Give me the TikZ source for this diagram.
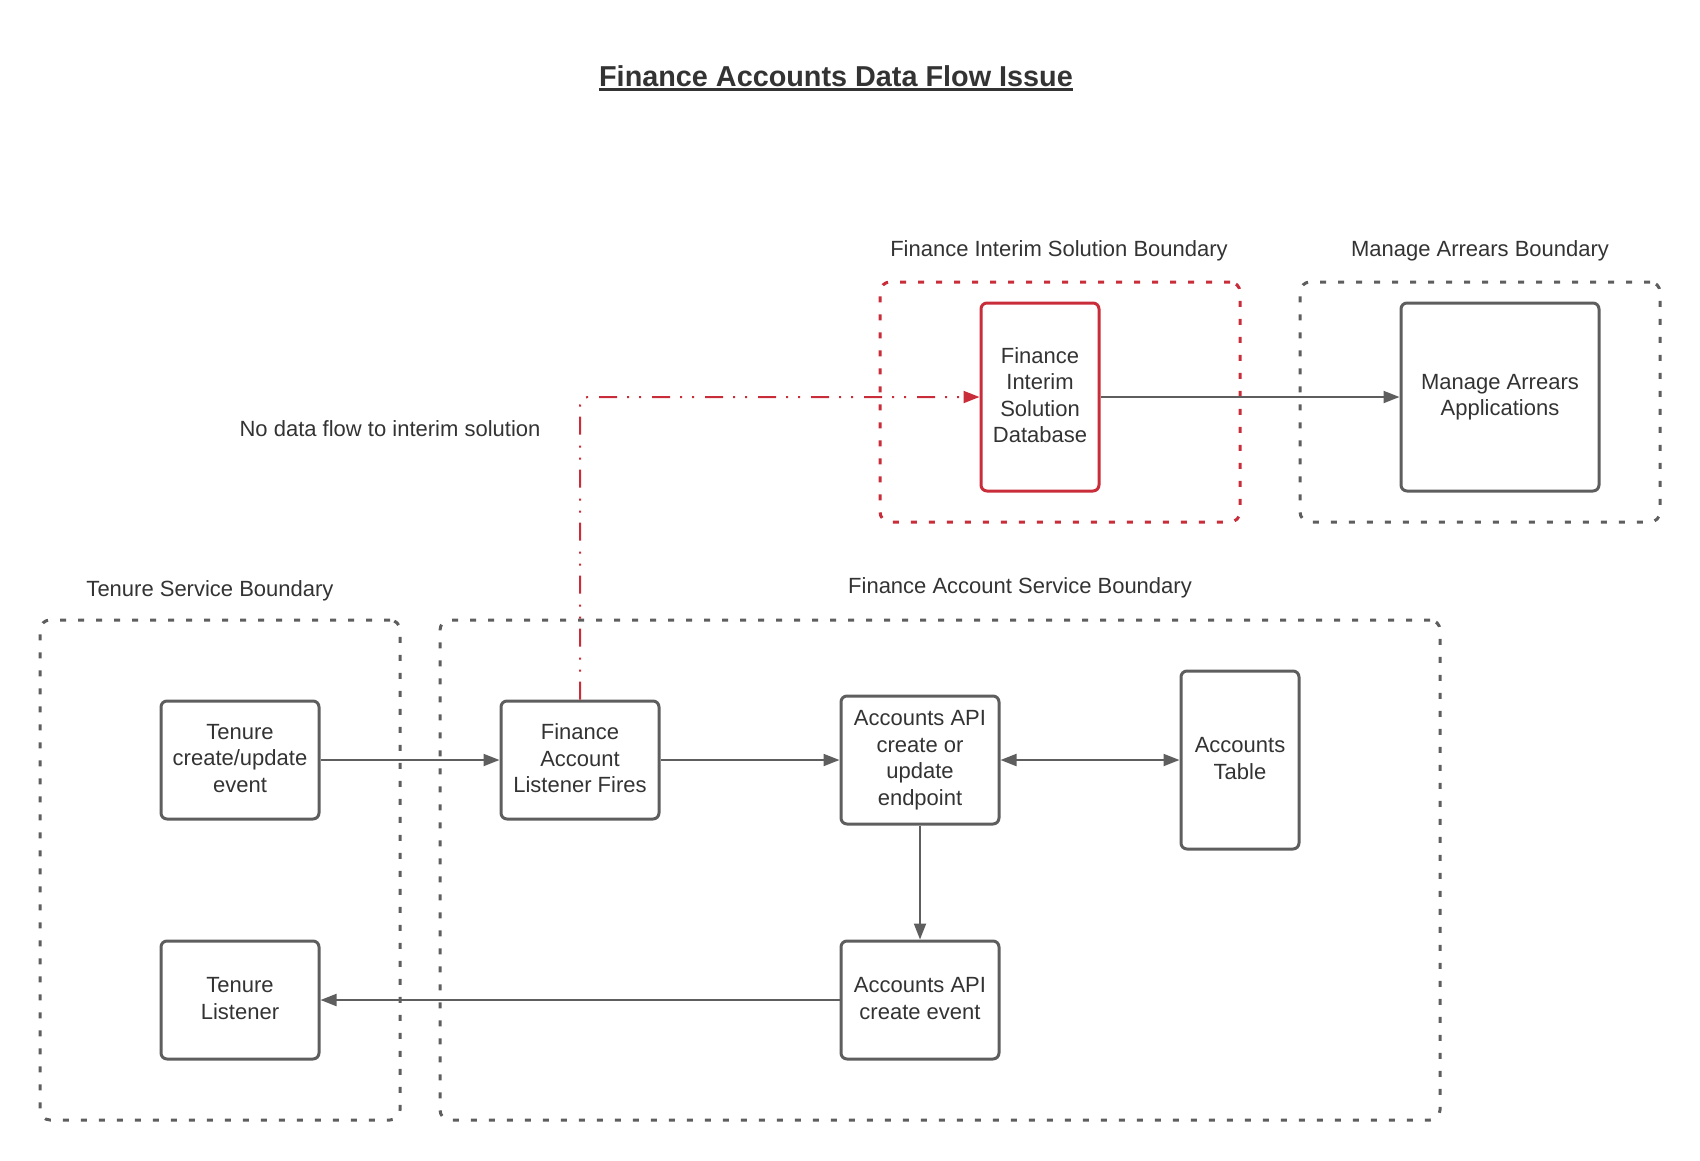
\documentclass[tikz,border=0pt]{standalone}
\usepackage{fontspec}
\setmainfont{Liberation Sans}
\usepackage{xcolor}
\usetikzlibrary{arrows.meta, positioning}
\definecolor{linegray}{HTML}{5E5E5E}
\definecolor{textgray}{HTML}{333333}
\definecolor{alertred}{HTML}{C92D39}

\begin{document}
\begin{tikzpicture}[
      x=1pt, y=-1pt,
      node distance = 179pt,
      font=\fontsize{22}{26.5}\selectfont,
      text=textgray,
      >={Triangle[length=16pt, width=12pt]},
      block/.style={rectangle, draw=linegray, line width=3pt, rounded corners=6pt, align=center, minimum width=158pt, minimum height=118pt, inner sep=2pt, execute at end node={\rule[-3.5pt]{0pt}{3.5pt}}},
      red_block/.style={block, draw=alertred},
      boundary/.style={rectangle, draw=linegray, line width=3pt, rounded corners=10pt, dash pattern=on 6pt off 12pt},
      red_boundary/.style={boundary, draw=alertred},
      label_text/.style={anchor=base, inner sep=0pt},
      line/.style={draw=linegray, line width=2pt, ->},
      red_line/.style={line, draw=alertred, rounded corners=8pt, dash pattern=on 18pt off 10pt on 2pt off 10pt on 2pt off 11pt}
  ]
  \useasboundingbox (0,0) rectangle (1700,1160);

  \node [boundary, minimum width=360pt, minimum height=500pt] (tenure_bound) at (220,870) {};
  \node [boundary, minimum width=1000pt, minimum height=500pt] (account_bound) at (940,870) {};
  \node [red_boundary, minimum width=360pt, minimum height=240pt] (interim_bound) at (1060,402) {};
  \node [boundary, minimum width=360pt, minimum height=240pt] (arrears_bound) at (1480,402) {};

  \node [label_text] (title) at (836,86) {\fontsize{28.8}{34}\selectfont\bfseries Finance Accounts Data Flow Issue};
  \draw [textgray, line width=3pt] ([yshift=-3.5pt]title.base west) -- ([yshift=-3.5pt]title.base east);
  \node [label_text] (interim_label) at (1059,256) {Finance Interim Solution Boundary};
  \node [label_text] (arrears_label) at (1480,256) {Manage Arrears Boundary};
  \node [label_text] (tenure_label) at (210,596) {Tenure Service Boundary};
  \node [label_text] (account_label) at (1020,593) {Finance Account Service Boundary};
  \node [label_text] (no_flow_label) at (390,436) {No data flow to interim solution};

  \node [block] (tenure_event) at (240,760) {Tenure\\create/update\\event};
  \node [block, right=of tenure_event] (listener) {Finance\\Account\\Listener Fires};
  \node [block, right=of listener, minimum height=128pt] (api_update) {Accounts API\\create or\\update\\endpoint};
  \node [block, right=of api_update, minimum width=118pt, minimum height=178pt] (accounts_table) {Accounts\\Table};
  \node [block, below=114pt of api_update] (api_event) {Accounts API\\create event};
  \node [block, below=119pt of tenure_event] (tenure_listener) {Tenure\\Listener};
  \node [red_block, minimum width=118pt, minimum height=188pt] (interim_db) at (1040,397) {Finance\\Interim\\Solution\\Database};
  \node [block, right=299pt of interim_db, minimum width=198pt, minimum height=188pt] (arrears_app) {Manage Arrears\\Applications};

  \path [line] (tenure_event) -- (listener);
  \path [line] (listener) -- (api_update);
  \path [line, <->] (api_update) -- (accounts_table);
  \path [line] (api_update) -- (api_event);
  \path [line] (api_event) -- (tenure_listener);
  \path [line] (interim_db) -- (arrears_app);
  \path [red_line] (listener) |- (interim_db);

\end{tikzpicture}
\end{document}
